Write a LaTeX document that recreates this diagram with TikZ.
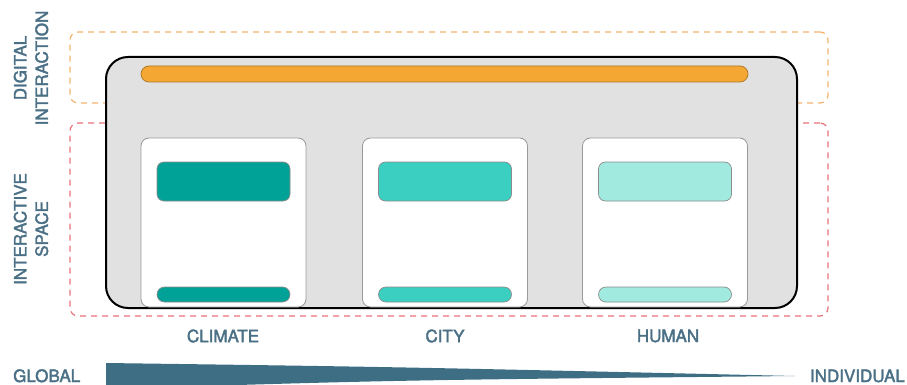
\documentclass[tikz,border=0pt]{standalone}
\usepackage{fontspec}
\setmainfont{TeX Gyre Heros}[FakeBold=2.2]
\definecolor{txt}{HTML}{4B7086}
\definecolor{wedge}{HTML}{3E6E84}
\definecolor{orng}{HTML}{F5A733}
\definecolor{orngdash}{HTML}{F2B36E}
\definecolor{reddash}{HTML}{E8727A}
\definecolor{greybg}{HTML}{E1E1E1}
\definecolor{cclim}{HTML}{00A196}
\definecolor{ccity}{HTML}{3ACFC0}
\definecolor{chum}{HTML}{A0EAE0}
\tikzset{
  dashbox/.style={draw, dash pattern=on 6pt off 5pt, line width=1.2pt, rounded corners=8pt, rectangle, inner sep=0pt},
  panel/.style={draw=black!40, fill=white, line width=0.8pt, rounded corners=8pt, rectangle, minimum width=165pt, minimum height=169pt, inner sep=0pt},
  topbar/.style={draw=black!45, line width=0.7pt, rounded corners=7pt, rectangle, minimum width=133pt, minimum height=39pt, inner sep=0pt},
  lowbar/.style={draw=black!45, line width=0.7pt, rounded corners=7.5pt, rectangle, minimum width=133pt, minimum height=15pt, inner sep=0pt},
  lbl/.style={text=txt, font=\fontsize{17}{21.5}\selectfont, inner sep=0pt, align=center}
}
\begin{document}
\begin{tikzpicture}[x=1pt,y=-1pt]
\useasboundingbox (0,0) rectangle (907,385);
\clip (0,0) rectangle (907,385);
% dashed zones
\node[dashbox, draw=orngdash, minimum width=758pt, minimum height=71pt] (digital) at (449,67.5) {};
\node[dashbox, draw=reddash, minimum width=758pt, minimum height=193pt] (space) at (449,219.5) {};
% outer box
\node[draw=black, fill=greybg, line width=2pt, rounded corners=22pt, rectangle, minimum width=691pt, minimum height=251pt, inner sep=0pt] (outer) at (451.5,182.5) {};
% orange bar
\node[draw=orng!70!black, fill=orng, line width=0.7pt, rounded corners=8pt, rectangle, minimum width=607pt, minimum height=16pt, inner sep=0pt] (digbar) at (444.5,74) {};
% panels
\node[panel] (pclim) at (223.5,222.5) {};
\node[panel] (pcity) at (445,222.5) {};
\node[panel] (phum) at (665,222.5) {};
% bars
\node[topbar, fill=cclim] (tclim) at (223.5,181.5) {};
\node[topbar, fill=ccity] (tcity) at (445,181.5) {};
\node[topbar, fill=chum] (thum) at (665,181.5) {};
\node[lowbar, fill=cclim] (bclim) at (223.5,294.5) {};
\node[lowbar, fill=ccity] (bcity) at (445,294.5) {};
\node[lowbar, fill=chum] (bhum) at (665,294.5) {};
% labels
\node[lbl] (lclim) at (223,336) {CLIMATE};
\node[lbl] (lcity) at (445,336) {CITY};
\node[lbl] (lhum) at (668,336) {HUMAN};
\node[lbl, rotate=90] (ldig) at (31,68) {DIGITAL\\INTERACTION};
\node[lbl, rotate=90] (lspace) at (31,229) {INTERACTIVE\\SPACE};
\node[lbl, anchor=base west] (lglob) at (13,382) {GLOBAL};
\node[lbl, anchor=base east] (lind) at (905,382) {INDIVIDUAL};
% wedge
\fill[wedge] (106,363) .. controls (400,367) .. (795,376) .. controls (400,380) .. (106,389) -- cycle;
\end{tikzpicture}
\end{document}
